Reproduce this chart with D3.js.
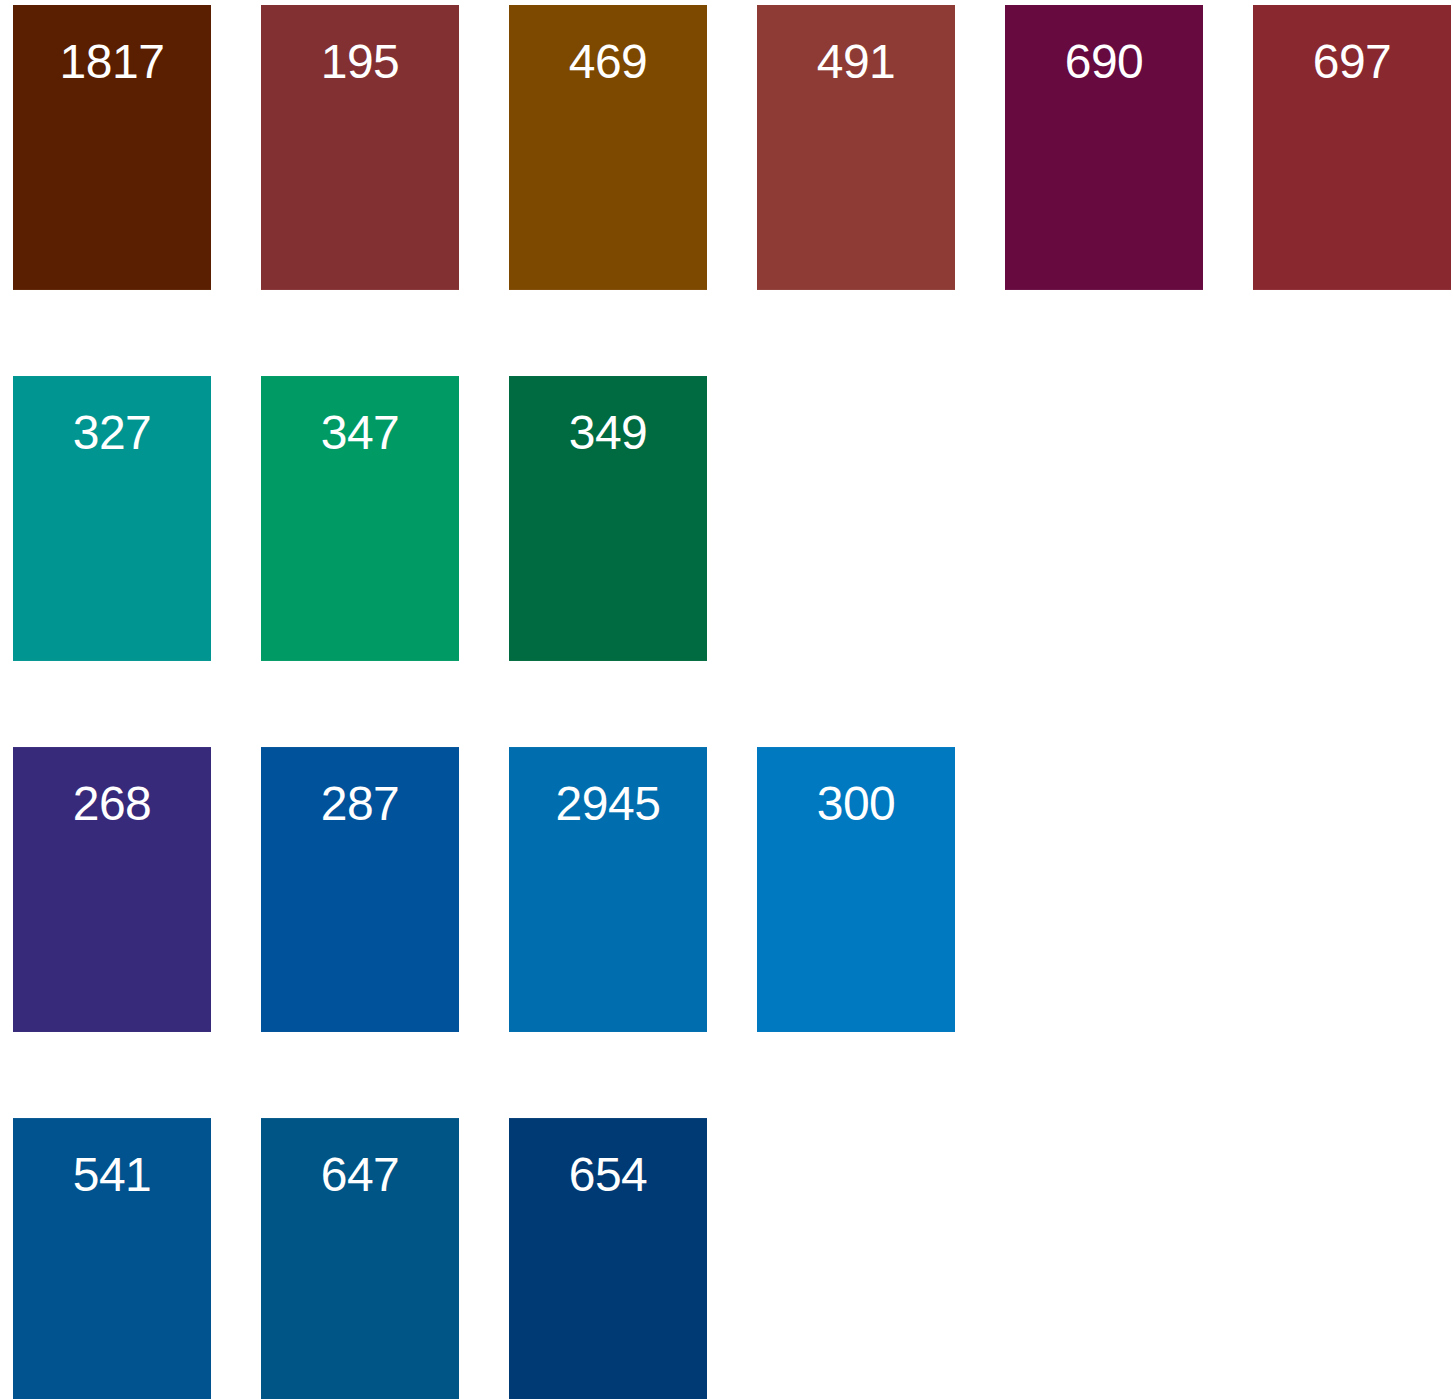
<!DOCTYPE html>
<html>
<head>
<meta charset="utf-8">
<script src="https://cdn.jsdelivr.net/npm/d3@7"></script>
<style>
  body { margin: 0; background: #fff; }
  svg { display: block; }
</style>
</head>
<body>
<div id="chart"></div>
<script>
// pantone swatches, one row per colour family
const rowNames = ["reds", "greens", "blues", "darkBlues"]

const reds = ["1817", "195", "469", "491", "690", "697"]
const redColors = ["#5a1f00", "#833033", "#7d4800", "#8d3b34", "#660a40", "#8a2830"]

const greens = ["327", "347", "349"]
const greenColors = ["#009590", "#009b65", "#006b40"]

const blues = ["268", "287", "2945", "300"]
const blueColors = ["#372a7a", "#00529b", "#006eae", "#0079c1"]

const darkBlues = ["541", "647", "654"]
const darkBlueColors = ["#00538e", "#005587", "#003a75"]

const rows = [
    { names: reds, colors: redColors },
    { names: greens, colors: greenColors },
    { names: blues, colors: blueColors },
    { names: darkBlues, colors: darkBlueColors }
]

var width = 1453
var height = 1399

var svg = d3.select("#chart")
    .append("svg")
    .attr("width", width)
    .attr("height", height)

var maxCols = d3.max(rows, r => r.names.length)

var xScale = d3.scaleBand()
    .domain(d3.range(maxCols))
    .range([13, 1451])
    .paddingInner(0.2016)

var yScale = d3.scaleBand()
    .domain(rowNames)
    .range([5, 1403])
    .paddingInner(0.232)

rows.forEach(function (row, r) {

    var cells = row.names.map(function (name, i) {
        return { name: name, color: row.colors[i], col: i }
    })

    var g = svg.append("g")
        .attr("transform", "translate(0," + yScale(rowNames[r]) + ")")

    var cell = g.selectAll("g.cell")
        .data(cells)
        .enter()
        .append("g")
        .attr("class", "cell")
        .attr("transform", d => "translate(" + xScale(d.col) + ",0)")

    cell.append("rect")
        .attr("width", xScale.bandwidth())
        .attr("height", yScale.bandwidth())
        .style("fill", d => d.color)

    cell.append("text")
        .attr("x", xScale.bandwidth() / 2)
        .attr("y", 73)
        .attr("text-anchor", "middle")
        .style("font-family", "'Liberation Sans', Arial, sans-serif")
        .style("font-size", "48px")
        .style("letter-spacing", "-0.5px")
        .style("fill", "#fff")
        .text(d => d.name)
})
</script>
</body>
</html>
